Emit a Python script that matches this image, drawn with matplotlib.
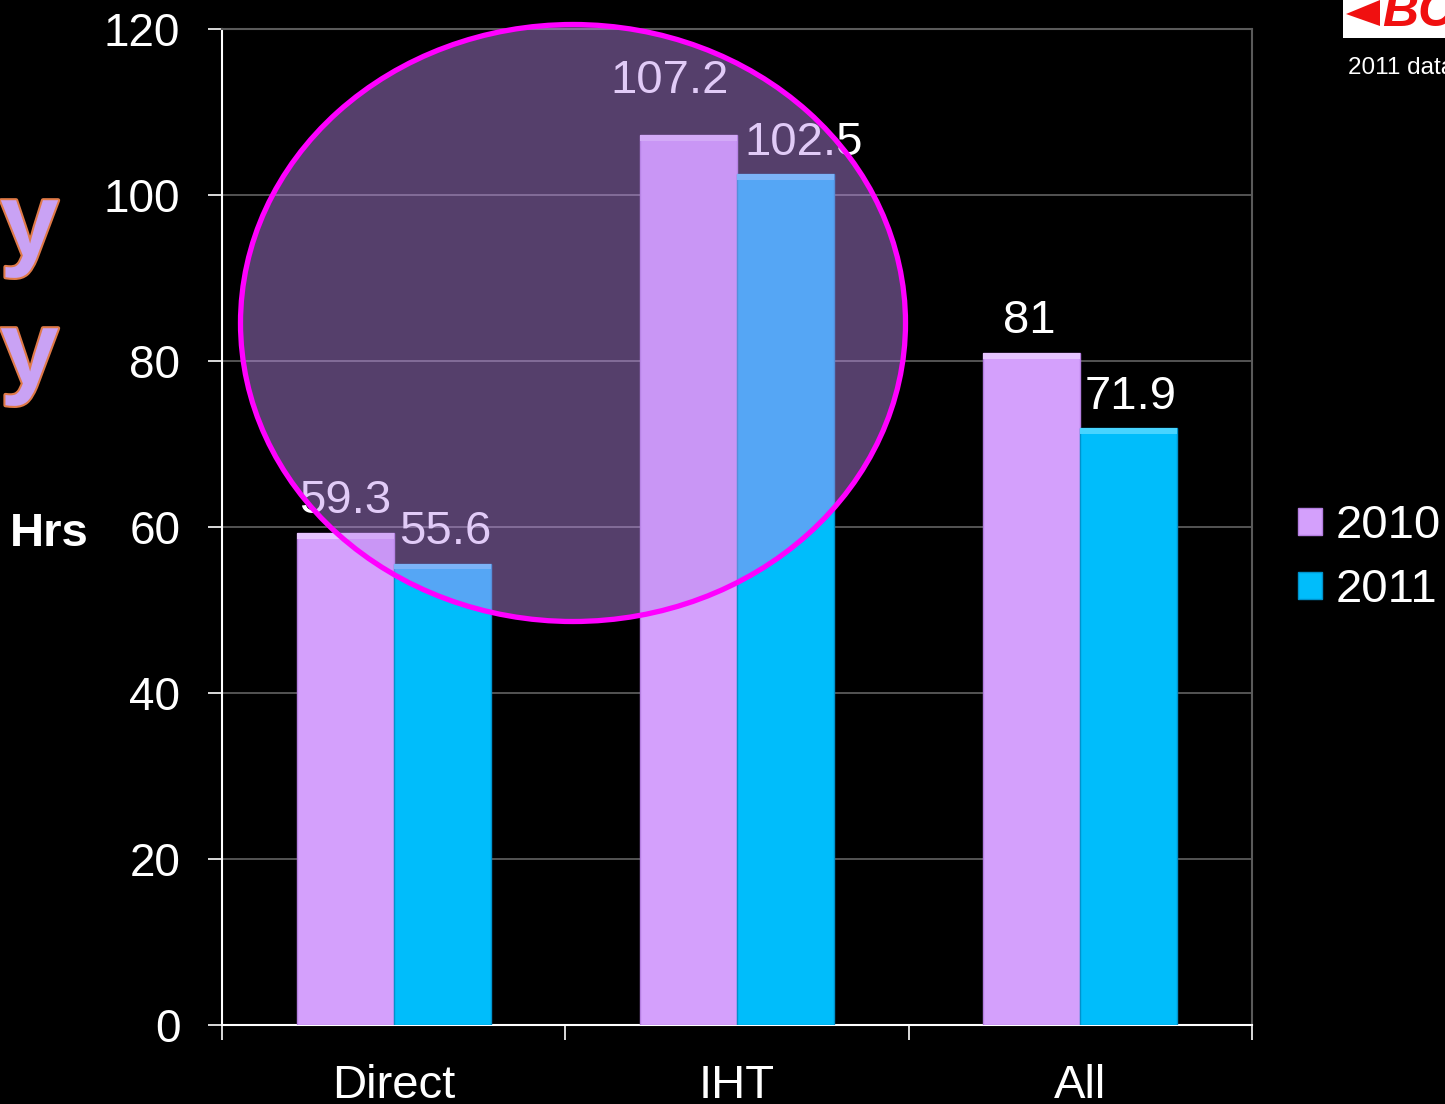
import matplotlib.pyplot as plt
import numpy as np
from matplotlib.patches import Ellipse, Rectangle, Polygon
import matplotlib.patheffects as pe

plt.rcParams['font.family'] = ['Liberation Sans', 'DejaVu Sans']

# data
categories = ['Direct', 'IHT', 'All']
years = ['2010', '2011']
hrs_2010 = [59.3, 107.2, 81]
hrs_2011 = [55.6, 102.5, 71.9]
yticks = [0, 20, 40, 60, 80, 100, 120]

col_2010 = '#d4a0fc'
col_2011 = '#00bdfb'
top_2010 = '#e6c4ff'
top_2011 = '#48d4ff'
grid_gray = '#5a5a5a'

(fig, ax) = plt.subplots(figsize=(14.45, 11.04), dpi=100)
fig.patch.set_facecolor('black')
ax.set_facecolor('black')
ax.set_position([222 / 1445, 1 - 1025 / 1104, 1030 / 1445, 996 / 1104])

x = np.arange(len(categories)) + 0.5
w = 0.283
b1 = ax.bar(x - w, hrs_2010, w, align='edge', color=col_2010, edgecolor='#b47ee0',
            linewidth=1, label=years[0], zorder=3)
b2 = ax.bar(x, hrs_2011, w, align='edge', color=col_2011, edgecolor='#0092cc',
            linewidth=1, label=years[1], zorder=3)
# bevel highlight on the bar tops
ax.bar(x - w, [0.7] * 3, w, bottom=np.array(hrs_2010) - 0.7, align='edge',
       color=top_2010, linewidth=0, zorder=4)
ax.bar(x, [0.7] * 3, w, bottom=np.array(hrs_2011) - 0.7, align='edge',
       color=top_2011, linewidth=0, zorder=4)

# value labels (IHT labels nudged apart like the original)
nudge_2010 = [(0, 7), (-19, 23), (-3, 7)]
nudge_2011 = [(3, 7), (18, 7), (2, 7)]
for bars, vals, nudges in ((b1, hrs_2010, nudge_2010), (b2, hrs_2011, nudge_2011)):
    for r, v, (dx, dy) in zip(bars, vals, nudges):
        ax.annotate(f'{v:g}', (r.get_x() + r.get_width() / 2, v),
                    xytext=(dx * 0.72, dy), textcoords='offset points',
                    ha='center', va='bottom', color='white', fontsize=34, zorder=5)

ax.set_xlim(0, 3)
ax.set_ylim(0, 120)
ax.set_yticks(yticks)
ax.yaxis.grid(True, color=grid_gray, linewidth=1.3, zorder=0)
ax.set_axisbelow(True)
ax.tick_params(axis='y', colors='white', labelsize=33, length=10, width=1.2, pad=20)

ax.set_xticks(x)
ax.set_xticklabels(categories)
ax.set_xticks([0, 1, 2, 3], minor=True)
ax.tick_params(axis='x', which='major', length=0, labelsize=34, colors='white', pad=28)
ax.tick_params(axis='x', which='minor', length=11, width=1.2, color='white')

for s in ('left', 'bottom'):
    ax.spines[s].set_color('white')
    ax.spines[s].set_linewidth(1.5)
for s in ('top', 'right'):
    ax.spines[s].set_color(grid_gray)
    ax.spines[s].set_linewidth(1.5)

leg = ax.legend(loc='center left', bbox_to_anchor=(1298 / 1445, 1 - 558 / 1104),
                bbox_transform=fig.transFigure, frameon=False, fontsize=34,
                handlelength=0.51, handleheight=0.51, handletextpad=0.28,
                labelspacing=0.42, borderpad=0, borderaxespad=0)
for t in leg.get_texts():
    t.set_color('white')

# left side text
fig.text(10 / 1445, 1 - 546 / 1104, 'Hrs', color='white', fontsize=34,
         fontweight='bold', va='baseline', ha='left')
for yb in (256, 384):
    fig.text(0, 1 - yb / 1104, 'y', color='#c9a2f4', fontsize=76, fontweight='bold',
             va='baseline', ha='left',
             path_effects=[pe.withStroke(linewidth=3, foreground='#e07a48')])

# logo corner
fig.add_artist(Rectangle((1343 / 1445, 1 - 38 / 1104), 102 / 1445, 38 / 1104,
                         transform=fig.transFigure, facecolor='white', edgecolor='none'))
fig.add_artist(Polygon([(1346 / 1445, 1 - 14 / 1104), (1380 / 1445, 1 - 0 / 1104),
                        (1380 / 1445, 1 - 26 / 1104)], closed=True,
                       transform=fig.transFigure, facecolor='#f01010', edgecolor='none'))
fig.text(1382 / 1445, 1 - 26 / 1104, 'BC', color='#f01010', fontsize=36,
         fontweight='bold', style='italic', va='baseline', ha='left')
fig.text(1348 / 1445, 1 - 74 / 1104, '2011 data', color='white', fontsize=17.5,
         va='baseline', ha='left')

# highlight ellipse over the chart
fig.add_artist(Ellipse((573 / 1445, 1 - 323 / 1104), 665 / 1445, 597 / 1104,
                       transform=fig.transFigure, facecolor=(189 / 255, 140 / 255, 238 / 255, 0.45),
                       edgecolor='#ff00ff', linewidth=3.8, zorder=10))

fig.savefig('out.png', dpi=100, facecolor='black')
